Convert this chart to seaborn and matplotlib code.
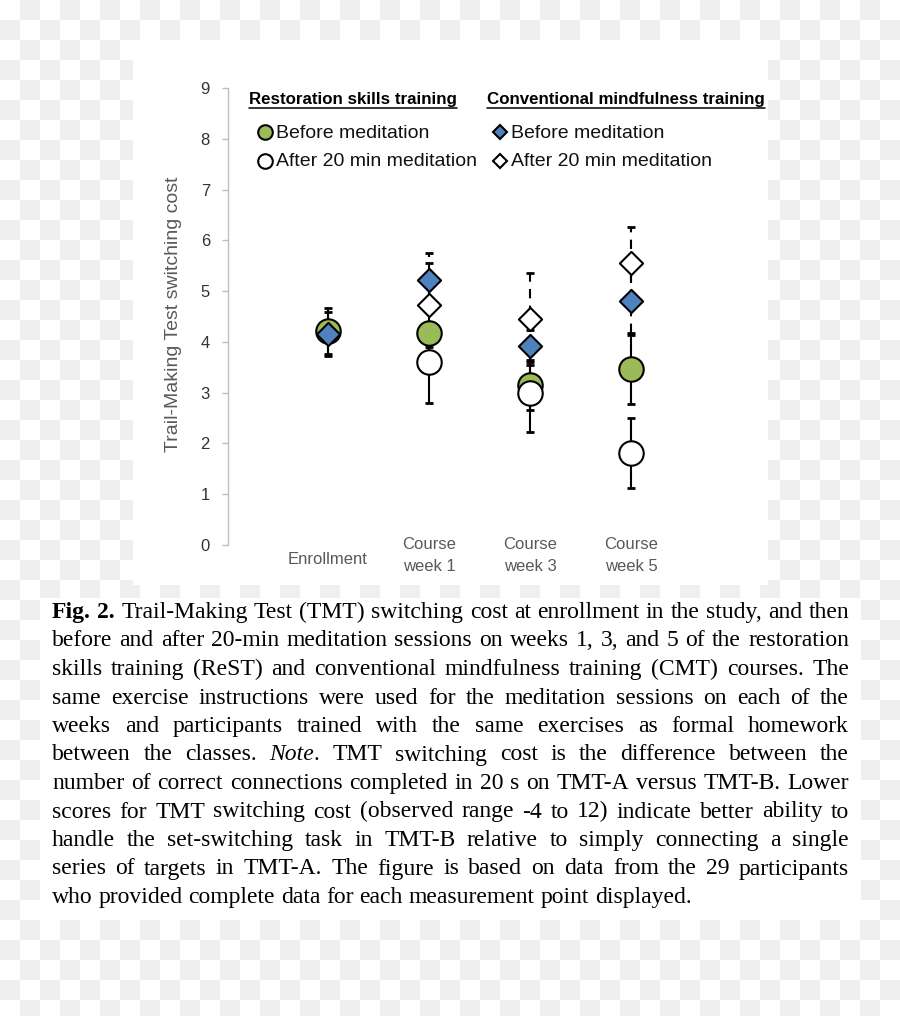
import re
import numpy as np
import matplotlib
matplotlib.use("Agg")
import matplotlib.pyplot as plt
import seaborn as sns
from matplotlib.colors import ListedColormap
from matplotlib.patches import Rectangle
from matplotlib.lines import Line2D
from matplotlib.transforms import ScaledTranslation

# values
categories = ["Enrollment", "Course\nweek 1", "Course\nweek 3", "Course\nweek 5"]
rest_before = [4.22, 4.17, 3.15, 3.46]
rest_before_err = [0.45, 0.50, 0.50, 0.68]
rest_after = [np.nan, 3.60, 3.00, 1.81]
rest_after_err = [np.nan, 0.80, 0.78, 0.69]
cmt_before = [4.15, 5.22, 3.92, 4.80]
cmt_before_err = [0.43, 0.53, 0.32, 0.63]
cmt_after = [np.nan, 4.72, 4.45, 5.55]
cmt_after_err = [np.nan, 0.83, 0.90, 0.71]
y_ticks = list(range(10))

header_rest = "Restoration skills training"
header_cmt = "Conventional mindfulness training"
label_before = "Before meditation"
label_after = "After 20 min meditation"
y_label = "Trail-Making Test switching cost"

caption_lines = [
    "**Fig.** **2.** Trail-Making Test (TMT) switching cost at enrollment in the study, and then",
    "before and after 20-min meditation sessions on weeks 1, 3, and 5 of the restoration",
    "skills training (ReST) and conventional mindfulness training (CMT) courses. The",
    "same exercise instructions were used for the meditation sessions on each of the",
    "weeks and participants trained with the same exercises as formal homework",
    "between the classes. *Note*. TMT switching cost is the difference between the",
    "number of correct connections completed in 20 s on TMT-A versus TMT-B. Lower",
    "scores for TMT switching cost (observed range -4 to 12) indicate better ability to",
    "handle the set-switching task in TMT-B relative to simply connecting a single",
    "series of targets in TMT-A. The figure is based on data from the 29 participants",
    "who provided complete data for each measurement point displayed.",
]

GREEN = "#9BBB59"
BLUE = "#4F81BD"
SANS = ["Liberation Sans", "DejaVu Sans"]
SERIF = ["Liberation Serif", "DejaVu Serif"]

sns.set_style("white")
plt.rcParams["font.family"] = SANS

fig = plt.figure(figsize=(9, 10.16), dpi=100)

# transparent-looking checkerboard backdrop, in pixel coordinates
bg = fig.add_axes([0, 0, 1, 1], zorder=0)
checker = np.add.outer(np.arange(51), np.arange(45)) % 2
bg.imshow(checker, cmap=ListedColormap(["white", "#efefef"]),
          interpolation="nearest", aspect="auto", extent=(0, 900, 1020, 0))
bg.set_xlim(0, 900)
bg.set_ylim(1016, 0)
bg.axis("off")
bg.add_patch(Rectangle((133, 40), 635, 545, color="white", lw=0))
bg.add_patch(Rectangle((40, 598), 821, 322, color="white", lw=0))

# main chart
ax = fig.add_axes([228 / 900, 471 / 1016, 540 / 900, 457 / 1016], zorder=1)
ax.set_facecolor("none")
x = np.arange(len(categories))

errs = [
    (rest_before, rest_before_err, "-"),
    (rest_after, rest_after_err, "-"),
    (cmt_after, cmt_after_err, (0, (4.5, 3.5))),
    (cmt_before, cmt_before_err, (0, (4.5, 3.5))),
]
for vals, err, ls in errs:
    eb = ax.errorbar(x, vals, yerr=err, fmt="none", ecolor="black",
                     elinewidth=1.5, capsize=3, capthick=2, zorder=2)
    eb[2][0].set_linestyle(ls)

s_circle, s_diamond = 310, 140
sns.scatterplot(x=x, y=rest_before, marker="o", s=s_circle, color=GREEN,
                edgecolor="black", linewidth=1.5, zorder=3, ax=ax, legend=False)
sns.scatterplot(x=x, y=rest_after, marker="o", s=s_circle, color="white",
                edgecolor="black", linewidth=1.5, zorder=4, ax=ax, legend=False)
sns.scatterplot(x=x, y=cmt_after, marker="D", s=s_diamond, color="white",
                edgecolor="black", linewidth=1.5, zorder=5, ax=ax, legend=False)
sns.scatterplot(x=x, y=cmt_before, marker="D", s=s_diamond, color=BLUE,
                edgecolor="black", linewidth=1.5, zorder=6, ax=ax, legend=False)

ax.set_xlim(-0.99, -0.99 + 540 / 101)
ax.set_ylim(0, 9)
ax.set_yticks(y_ticks)
ax.set_yticklabels([str(t) for t in y_ticks], fontsize=12, color="#333333")
ax.set_xticks(x)
ax.set_xticklabels(categories, fontsize=12, color="#595959", va="center",
                   linespacing=1.55)
ax.tick_params(axis="x", length=0, pad=7.5)
ax.tick_params(axis="y", length=4, width=1, color="#BFBFBF", pad=9, left=True)
for side in ["top", "right", "bottom"]:
    ax.spines[side].set_visible(False)
ax.spines["left"].set_color("#BFBFBF")
ax.spines["left"].set_linewidth(1)
ax.set_ylabel(y_label, fontsize=14, color="#595959")
ax.yaxis.set_label_coords(-0.085, 0.505)
ax.grid(False)

# single-line label sits a little lower than the two-line ones
first = ax.get_xticklabels()[0]
first.set_transform(first.get_transform()
                    + ScaledTranslation(0, -3 / 72, fig.dpi_scale_trans))

renderer = fig.canvas.get_renderer()


def text_width(s, **kw):
    t = bg.text(0, 0, s, **kw)
    w = t.get_window_extent(renderer).width
    t.remove()
    return w


# legend block
for hx, head in [(249, header_rest), (487, header_cmt)]:
    bg.text(hx, 104, head, fontsize=12.2, weight="bold", color="black",
            va="baseline", zorder=5)
    w = text_width(head, fontsize=12.2, weight="bold")
    bg.add_line(Line2D([hx, hx + w], [107.5, 107.5], color="black", lw=1.1))

legend_rows = [
    (265, 132, "o", GREEN, 10.5, label_before),
    (265, 161, "o", "white", 10.5, label_after),
    (500, 132, "D", BLUE, 7.5, label_before),
    (500, 161, "D", "white", 7.5, label_after),
]
for lx, ly, mk, fc, ms, lab in legend_rows:
    bg.plot([lx], [ly], marker=mk, ms=ms, mfc=fc, mec="black", mew=1.5,
            ls="none", zorder=5)
    bg.text(lx + 11, ly + 1, lab, fontsize=14, color="#111111", va="center",
            zorder=5)


# caption, justified word by word
cap_fs = 17


def segments(word):
    out = []
    for part in re.split(r"(\*\*[^*]+\*\*|\*[^*]+\*)", word):
        if not part:
            continue
        if part.startswith("**"):
            out.append((part[2:-2], "bold", "normal"))
        elif part.startswith("*"):
            out.append((part[1:-1], "normal", "italic"))
        else:
            out.append((part, "normal", "normal"))
    return out


space_w = (text_width("a a", fontsize=cap_fs, family=SERIF)
           - text_width("aa", fontsize=cap_fs, family=SERIF))
left, right = 52, 849
for i, line in enumerate(caption_lines):
    baseline = 618 + i * 28.5
    words = [segments(w) for w in line.split(" ")]
    widths = [[text_width(s, fontsize=cap_fs, family=SERIF, weight=wt, style=st)
               for s, wt, st in wd] for wd in words]
    total = sum(sum(w) for w in widths)
    if i < len(caption_lines) - 1:
        gap = (right - left - total) / (len(words) - 1)
    else:
        gap = space_w
    cx = left
    for wd, ws in zip(words, widths):
        for (s, wt, st), w in zip(wd, ws):
            bg.text(cx, baseline, s, fontsize=cap_fs, family=SERIF, weight=wt,
                    style=st, color="black", va="baseline", zorder=5)
            cx += w
        cx += gap

fig.savefig("out.png", dpi=100)
